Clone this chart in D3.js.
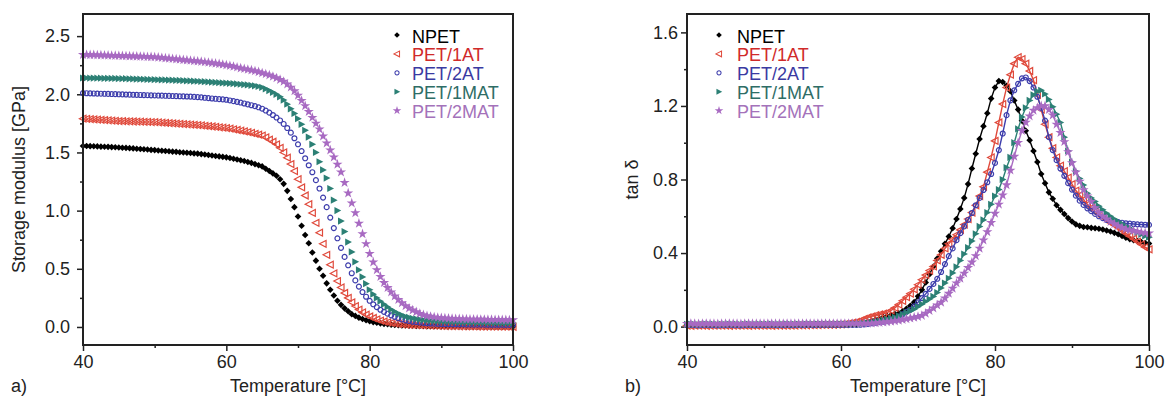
<!DOCTYPE html>
<html>
<head>
<meta charset="utf-8">
<script src="https://cdn.jsdelivr.net/npm/d3@7"></script>
<style>
body { margin: 0; background: #fff; }
svg text { font-family: "Liberation Sans", Arial, sans-serif; }
</style>
</head>
<body>
<script>
// temperature grid of the DMA runs [°C]
var temps = [
  40,40.5,41,41.5,42,42.5,43,43.5,44,44.5,
  45,45.5,46,46.5,47,47.5,48,48.5,49,49.5,
  50,50.5,51,51.5,52,52.5,53,53.5,54,54.5,
  55,55.5,56,56.5,57,57.5,58,58.5,59,59.5,
  60,60.5,61,61.5,62,62.5,63,63.5,64,64.5,
  65,65.5,66,66.5,67,67.5,68,68.5,69,69.5,
  70,70.5,71,71.5,72,72.5,73,73.5,74,74.5,
  75,75.5,76,76.5,77,77.5,78,78.5,79,79.5,
  80,80.5,81,81.5,82,82.5,83,83.5,84,84.5,
  85,85.5,86,86.5,87,87.5,88,88.5,89,89.5,
  90,90.5,91,91.5,92,92.5,93,93.5,94,94.5,
  95,95.5,96,96.5,97,97.5,98,98.5,99,99.5,
  100];

var seriesNames = ["NPET", "PET/1AT", "PET/2AT", "PET/1MAT", "PET/2MAT"];
var markerColors = ["#000000", "#e04a3c", "#3d3dac", "#2c8075", "#a86ac2"];
var textColors = ["#000000", "#d02a2a", "#3a3aa2", "#2e6d66", "#a472ba"];
var markerTypes = ["diamond", "triLeft", "circle", "triRight", "star"];

// storage modulus [GPa]
var modNPET = [
  1.555,1.555,1.554,1.553,1.552,1.550,1.549,1.548,1.546,1.545,
  1.543,1.541,1.539,1.537,1.535,1.532,1.530,1.527,1.525,1.522,
  1.520,1.517,1.515,1.512,1.510,1.507,1.505,1.502,1.500,1.497,
  1.495,1.492,1.490,1.486,1.482,1.478,1.474,1.470,1.466,1.462,
  1.458,1.452,1.446,1.440,1.433,1.426,1.418,1.410,1.400,1.390,
  1.380,1.360,1.340,1.320,1.300,1.270,1.230,1.170,1.100,1.030,
  0.950,0.870,0.790,0.720,0.640,0.570,0.500,0.440,0.375,0.320,
  0.270,0.225,0.190,0.160,0.135,0.110,0.095,0.080,0.068,0.058,
  0.050,0.042,0.036,0.031,0.027,0.023,0.020,0.017,0.015,0.013,
  0.012,0.011,0.010,0.009,0.008,0.008,0.007,0.007,0.006,0.006,
  0.005,0.005,0.005,0.004,0.004,0.004,0.004,0.003,0.003,0.003,
  0.003,0.003,0.003,0.002,0.002,0.002,0.002,0.002,0.002,0.002,
  0.002];
var mod1AT = [
  1.790,1.788,1.786,1.784,1.782,1.780,1.778,1.776,1.774,1.772,
  1.770,1.769,1.768,1.767,1.766,1.765,1.764,1.763,1.762,1.761,
  1.760,1.758,1.756,1.754,1.752,1.750,1.748,1.746,1.744,1.742,
  1.740,1.738,1.735,1.732,1.729,1.726,1.723,1.720,1.716,1.713,
  1.710,1.705,1.699,1.693,1.687,1.681,1.675,1.668,1.660,1.653,
  1.645,1.630,1.610,1.592,1.570,1.540,1.500,1.455,1.400,1.340,
  1.270,1.200,1.130,1.055,0.980,0.895,0.810,0.715,0.620,0.535,
  0.460,0.395,0.340,0.292,0.250,0.212,0.180,0.150,0.125,0.106,
  0.090,0.077,0.065,0.055,0.047,0.040,0.035,0.030,0.026,0.023,
  0.021,0.019,0.017,0.016,0.015,0.014,0.013,0.012,0.011,0.010,
  0.009,0.008,0.008,0.007,0.007,0.006,0.006,0.005,0.005,0.005,
  0.004,0.004,0.004,0.003,0.003,0.003,0.002,0.002,0.002,0.001,
  0.001];
var mod2AT = [
  2.010,2.009,2.008,2.007,2.006,2.005,2.004,2.003,2.002,2.001,
  2.000,1.999,1.998,1.997,1.996,1.995,1.994,1.993,1.992,1.991,
  1.990,1.989,1.988,1.987,1.986,1.985,1.984,1.983,1.982,1.981,
  1.980,1.978,1.976,1.973,1.970,1.967,1.964,1.961,1.958,1.956,
  1.953,1.947,1.941,1.935,1.929,1.921,1.913,1.906,1.898,1.888,
  1.876,1.860,1.842,1.822,1.800,1.775,1.745,1.710,1.670,1.622,
  1.570,1.512,1.450,1.390,1.330,1.262,1.190,1.112,1.030,0.940,
  0.850,0.762,0.680,0.602,0.530,0.462,0.400,0.347,0.300,0.260,
  0.225,0.195,0.170,0.148,0.130,0.114,0.100,0.087,0.075,0.065,
  0.057,0.051,0.045,0.041,0.038,0.035,0.032,0.030,0.028,0.026,
  0.025,0.024,0.024,0.023,0.023,0.022,0.022,0.021,0.021,0.020,
  0.020,0.020,0.020,0.019,0.019,0.019,0.019,0.019,0.018,0.018,
  0.018];
var mod1MAT = [
  2.140,2.140,2.139,2.139,2.138,2.138,2.137,2.137,2.136,2.136,
  2.135,2.134,2.134,2.133,2.132,2.131,2.130,2.129,2.128,2.127,
  2.126,2.125,2.124,2.123,2.122,2.121,2.120,2.119,2.118,2.116,
  2.115,2.113,2.112,2.110,2.108,2.106,2.104,2.102,2.100,2.098,
  2.096,2.094,2.092,2.089,2.086,2.083,2.080,2.077,2.073,2.067,
  2.060,2.047,2.032,2.017,2.000,1.978,1.950,1.915,1.875,1.835,
  1.790,1.742,1.690,1.632,1.570,1.500,1.420,1.350,1.280,1.190,
  1.090,1.000,0.910,0.820,0.730,0.645,0.560,0.490,0.430,0.372,
  0.320,0.282,0.250,0.221,0.195,0.172,0.150,0.132,0.115,0.102,
  0.090,0.082,0.075,0.070,0.065,0.061,0.058,0.055,0.053,0.051,
  0.050,0.048,0.047,0.046,0.045,0.044,0.043,0.042,0.042,0.041,
  0.040,0.039,0.039,0.038,0.038,0.037,0.037,0.036,0.036,0.035,
  0.035];
var mod2MAT = [
  2.340,2.340,2.339,2.338,2.337,2.336,2.335,2.334,2.333,2.332,
  2.331,2.330,2.329,2.328,2.327,2.326,2.325,2.324,2.322,2.321,
  2.320,2.317,2.314,2.311,2.308,2.305,2.302,2.299,2.296,2.293,
  2.290,2.287,2.284,2.281,2.277,2.273,2.269,2.265,2.261,2.256,
  2.251,2.245,2.239,2.232,2.225,2.219,2.213,2.207,2.200,2.192,
  2.183,2.174,2.165,2.153,2.140,2.126,2.110,2.087,2.060,2.028,
  1.990,1.946,1.900,1.850,1.800,1.750,1.700,1.640,1.580,1.520,
  1.460,1.397,1.330,1.240,1.150,1.065,0.980,0.890,0.800,0.715,
  0.630,0.557,0.490,0.432,0.380,0.337,0.300,0.265,0.235,0.206,
  0.180,0.161,0.145,0.129,0.115,0.104,0.095,0.090,0.085,0.081,
  0.078,0.076,0.074,0.072,0.070,0.069,0.068,0.067,0.066,0.066,
  0.065,0.064,0.064,0.063,0.063,0.062,0.062,0.061,0.061,0.060,
  0.060];

// tan delta
var tanNPET = [
  0.010,0.011,0.010,0.009,0.010,0.011,0.010,0.010,0.009,0.010,
  0.010,0.011,0.010,0.010,0.009,0.010,0.011,0.010,0.010,0.010,
  0.010,0.010,0.011,0.010,0.010,0.010,0.011,0.010,0.010,0.011,
  0.010,0.011,0.011,0.010,0.011,0.011,0.012,0.011,0.012,0.012,
  0.012,0.013,0.013,0.014,0.015,0.018,0.022,0.027,0.032,0.038,
  0.045,0.052,0.058,0.063,0.068,0.073,0.083,0.097,0.113,0.133,
  0.165,0.200,0.240,0.285,0.327,0.370,0.410,0.450,0.490,0.535,
  0.585,0.640,0.700,0.775,0.860,0.940,1.020,1.090,1.160,1.240,
  1.300,1.335,1.330,1.310,1.280,1.230,1.180,1.120,1.065,1.014,
  0.955,0.895,0.830,0.780,0.730,0.695,0.660,0.635,0.612,0.590,
  0.572,0.556,0.548,0.542,0.540,0.537,0.535,0.532,0.528,0.523,
  0.517,0.510,0.502,0.493,0.483,0.476,0.470,0.465,0.460,0.455,
  0.452];
var tan1AT = [
  0.005,0.004,0.005,0.006,0.005,0.004,0.005,0.005,0.006,0.005,
  0.005,0.004,0.005,0.005,0.006,0.005,0.004,0.005,0.005,0.006,
  0.005,0.005,0.004,0.005,0.006,0.005,0.005,0.006,0.006,0.007,
  0.007,0.007,0.008,0.008,0.008,0.009,0.009,0.010,0.010,0.011,
  0.012,0.014,0.017,0.021,0.026,0.033,0.042,0.050,0.056,0.062,
  0.066,0.071,0.076,0.088,0.102,0.120,0.140,0.160,0.180,0.203,
  0.228,0.255,0.280,0.305,0.327,0.360,0.390,0.425,0.450,0.475,
  0.500,0.526,0.555,0.585,0.620,0.660,0.710,0.760,0.840,0.920,
  1.010,1.110,1.210,1.300,1.370,1.430,1.465,1.455,1.430,1.390,
  1.340,1.260,1.180,1.100,1.030,0.970,0.920,0.875,0.845,0.810,
  0.775,0.740,0.715,0.690,0.665,0.645,0.627,0.610,0.595,0.580,
  0.565,0.552,0.538,0.522,0.507,0.492,0.477,0.462,0.447,0.432,
  0.420];
var tan2AT = [
  0.008,0.009,0.008,0.007,0.008,0.009,0.008,0.008,0.007,0.008,
  0.008,0.009,0.008,0.008,0.007,0.008,0.009,0.008,0.008,0.008,
  0.008,0.008,0.009,0.008,0.008,0.008,0.009,0.008,0.008,0.009,
  0.008,0.009,0.009,0.008,0.009,0.009,0.009,0.009,0.009,0.009,
  0.009,0.009,0.009,0.009,0.009,0.010,0.012,0.015,0.018,0.021,
  0.024,0.027,0.030,0.036,0.044,0.055,0.067,0.080,0.092,0.110,
  0.132,0.155,0.178,0.205,0.232,0.260,0.297,0.340,0.383,0.425,
  0.470,0.508,0.545,0.580,0.618,0.660,0.700,0.743,0.785,0.830,
  0.890,0.960,1.050,1.150,1.230,1.285,1.320,1.350,1.355,1.335,
  1.300,1.250,1.190,1.120,1.030,0.960,0.905,0.860,0.820,0.780,
  0.745,0.712,0.685,0.662,0.643,0.628,0.613,0.600,0.590,0.580,
  0.575,0.571,0.568,0.565,0.562,0.560,0.558,0.556,0.555,0.554,
  0.553];
var tan1MAT = [
  0.012,0.013,0.012,0.011,0.012,0.013,0.012,0.012,0.011,0.012,
  0.012,0.013,0.012,0.012,0.011,0.012,0.013,0.012,0.012,0.012,
  0.012,0.012,0.013,0.012,0.012,0.012,0.013,0.012,0.012,0.013,
  0.012,0.013,0.013,0.012,0.013,0.013,0.013,0.013,0.013,0.013,
  0.013,0.013,0.013,0.013,0.013,0.014,0.016,0.019,0.022,0.026,
  0.030,0.035,0.040,0.045,0.050,0.058,0.067,0.076,0.085,0.095,
  0.108,0.122,0.137,0.150,0.164,0.185,0.210,0.237,0.263,0.292,
  0.325,0.360,0.395,0.430,0.465,0.505,0.545,0.580,0.620,0.665,
  0.710,0.745,0.800,0.865,0.920,1.000,1.075,1.140,1.190,1.230,
  1.260,1.280,1.285,1.265,1.235,1.195,1.155,1.110,1.030,0.955,
  0.895,0.845,0.805,0.770,0.725,0.700,0.680,0.655,0.635,0.616,
  0.600,0.585,0.572,0.560,0.547,0.535,0.523,0.512,0.502,0.493,
  0.486];
var tan2MAT = [
  0.016,0.017,0.016,0.015,0.016,0.017,0.016,0.016,0.015,0.016,
  0.016,0.017,0.016,0.016,0.015,0.016,0.017,0.016,0.016,0.016,
  0.016,0.016,0.017,0.016,0.016,0.016,0.017,0.016,0.016,0.017,
  0.016,0.017,0.017,0.016,0.017,0.017,0.017,0.017,0.017,0.017,
  0.017,0.017,0.017,0.017,0.017,0.017,0.017,0.017,0.018,0.020,
  0.022,0.024,0.026,0.028,0.031,0.034,0.038,0.042,0.046,0.050,
  0.054,0.060,0.072,0.086,0.100,0.117,0.132,0.155,0.180,0.208,
  0.237,0.262,0.290,0.320,0.350,0.385,0.425,0.470,0.515,0.565,
  0.615,0.665,0.715,0.770,0.850,0.925,1.000,1.065,1.110,1.145,
  1.176,1.190,1.200,1.200,1.180,1.150,1.100,1.055,1.005,0.950,
  0.890,0.840,0.790,0.743,0.710,0.680,0.645,0.620,0.600,0.585,
  0.570,0.558,0.547,0.538,0.530,0.526,0.521,0.517,0.513,0.510,
  0.508];

var xMajor = [40, 60, 80, 100];
var xMinor = [50, 70, 90];
var modMajor = [0, 0.5, 1.0, 1.5, 2.0, 2.5];
var modMinor = [0.25, 0.75, 1.25, 1.75, 2.25];
var tanMajor = [0, 0.4, 0.8, 1.2, 1.6];
var tanMinor = [0.2, 0.6, 1.0, 1.4];

var W = 1166, H = 396;
var svg = d3.select("body").append("svg").attr("width", W).attr("height", H);

function markerPath(type) {
  if (type == "diamond") return "M0,-3.3L3.3,0L0,3.3L-3.3,0Z";
  if (type == "triLeft") return "M-3.6,0L3,-3.4L3,3.4Z";
  if (type == "triRight") return "M3.8,0L-3,-3.6L-3,3.6Z";
  if (type == "circle") return d3.symbol(d3.symbolCircle, 19)();
  return d3.symbol(d3.symbolStar, 32)();
}

function styleMarker(sel, i) {
  var open = markerTypes[i] == "triLeft" || markerTypes[i] == "circle";
  sel.attr("d", markerPath(markerTypes[i]))
    .attr("fill", open ? "none" : markerColors[i])
    .attr("stroke", open ? markerColors[i] : "none")
    .attr("stroke-width", open ? 1.2 : 0);
}

function drawPanel(p) {
  var x = d3.scaleLinear().domain([40, 100]).range([p.left, p.right]);
  var y = d3.scaleLinear().domain(p.yDomain).range([p.bottom, p.top]);
  var g = svg.append("g");

  // axes (ticks outward)
  g.append("g").attr("transform", "translate(0," + p.bottom + ")")
    .call(d3.axisBottom(x).tickValues(xMajor).tickSize(6).tickPadding(4).tickFormat(d3.format("d")));
  g.append("g").attr("transform", "translate(0," + p.bottom + ")")
    .call(d3.axisBottom(x).tickValues(xMinor).tickSize(3).tickFormat(""));
  g.append("g").attr("transform", "translate(" + p.left + ",0)")
    .call(d3.axisLeft(y).tickValues(p.yMajor).tickSize(6).tickPadding(p.yPad).tickFormat(d3.format(".1f")));
  g.append("g").attr("transform", "translate(" + p.left + ",0)")
    .call(d3.axisLeft(y).tickValues(p.yMinor).tickSize(3).tickFormat(""));
  g.selectAll(".domain").remove();
  g.selectAll(".tick line").attr("stroke", "#222").attr("stroke-width", 1.5);
  g.selectAll(".tick text").attr("font-size", 18).attr("fill", "#222")
    .attr("font-family", "'Liberation Sans', Arial, sans-serif");

  // data markers (the tan delta runs are dense, a thin trace joins them)
  p.data.forEach(function (vals, i) {
    var pts = d3.zip(temps, vals);
    if (p.trace) {
      g.append("path").datum(pts)
        .attr("d", d3.line().x(function (d) { return x(d[0]); }).y(function (d) { return y(d[1]); }))
        .attr("fill", "none").attr("stroke", markerColors[i]).attr("stroke-width", 1.4);
    }
    g.append("g").selectAll("path")
      .data(pts)
      .join("path")
      .call(styleMarker, i)
      .attr("transform", function (d) { return "translate(" + x(d[0]) + "," + y(d[1]) + ")"; });
  });

  // frame
  g.append("rect")
    .attr("x", p.left).attr("y", p.top)
    .attr("width", p.right - p.left).attr("height", p.bottom - p.top)
    .attr("fill", "none").attr("stroke", "#222").attr("stroke-width", 2);

  // legend
  seriesNames.forEach(function (name, i) {
    var ly = 35 + i * 18.9;
    g.append("path").call(styleMarker, i)
      .attr("transform", "translate(" + p.legX + "," + ly + ") scale(0.85)");
    g.append("text").attr("x", p.legX + p.legGap).attr("y", ly + 7.5)
      .attr("font-size", 18).attr("fill", textColors[i]).text(name);
  });

  // titles
  g.append("text").attr("x", (p.left + p.right) / 2).attr("y", 392)
    .attr("text-anchor", "middle").attr("font-size", 18).attr("fill", "#222")
    .text("Temperature [\u00B0C]");
  g.append("text")
    .attr("transform", "translate(" + p.yTitleX + "," + ((p.top + p.bottom) / 2) + ") rotate(-90)")
    .attr("text-anchor", "middle").attr("font-size", 18).attr("fill", "#222")
    .text(p.yTitle);
  g.append("text").attr("x", p.tagX).attr("y", 392)
    .attr("font-size", 18).attr("fill", "#222").text(p.tag);
}

drawPanel({
  left: 83, right: 513, top: 14, bottom: 345,
  yDomain: [-0.155, 2.69], yMajor: modMajor, yMinor: modMinor, yPad: 7,
  data: [modNPET, mod1AT, mod2AT, mod1MAT, mod2MAT], trace: false,
  legX: 397, legGap: 15,
  yTitle: "Storage modulus [GPa]", yTitleX: 25,
  tag: "a)", tagX: 11
});

drawPanel({
  left: 687, right: 1149, top: 14, bottom: 345,
  yDomain: [-0.1, 1.7], yMajor: tanMajor, yMinor: tanMinor, yPad: 3,
  data: [tanNPET, tan1AT, tan2AT, tan1MAT, tan2MAT], trace: true,
  legX: 719, legGap: 18,
  yTitle: "tan \u03B4", yTitleX: 638,
  tag: "b)", tagX: 625
});
</script>
</body>
</html>
